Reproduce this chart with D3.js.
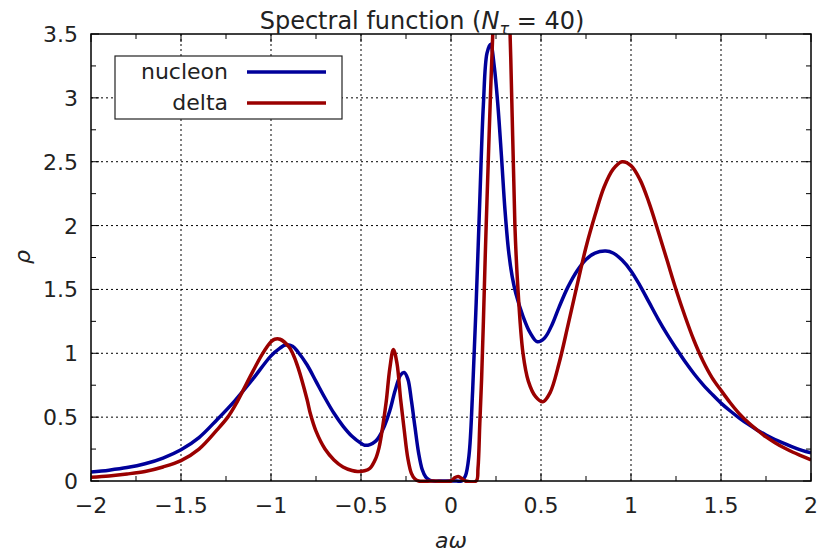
<!DOCTYPE html>
<html><head><meta charset="utf-8">
<script src="https://cdn.jsdelivr.net/npm/d3@7"></script>
<style>body{margin:0;background:#fff}svg{display:block}text{font-family:"DejaVu Sans",sans-serif;fill:#222}</style>
</head><body><svg id="c" width="820" height="555"></svg>
<script>
const xTicks = [-2,-1.5,-1,-0.5,0,0.5,1,1.5,2];
const xTickLabels = ["\u22122","\u22121.5","\u22121","\u22120.5","0","0.5","1","1.5","2"];
const yTicks = [0,0.5,1,1.5,2,2.5,3,3.5];
const yTickLabels = ["0","0.5","1","1.5","2","2.5","3","3.5"];
const xMinor = [-1.75,-1.25,-0.75,-0.25,0.25,0.75,1.25,1.75];
const yMinor = [0.25,0.75,1.25,1.75,2.25,2.75,3.25];

const nucleonX = [-2,-1.9,-1.8,-1.7,-1.6,-1.5,-1.4,-1.3,-1.2,-1.1,-1.0,-0.95,-0.92,-0.88,-0.85,-0.8,-0.75,-0.7,-0.65,-0.6,-0.55,-0.5,-0.48,-0.45,-0.42,-0.4,-0.37,-0.34,-0.31,-0.28,-0.26,-0.24,-0.22,-0.2,-0.18,-0.16,-0.14,-0.12,-0.1,-0.05,0,0.03,0.06,0.08,0.1,0.12,0.14,0.16,0.18,0.2,0.22,0.24,0.26,0.28,0.3,0.32,0.34,0.36,0.4,0.44,0.48,0.52,0.56,0.6,0.65,0.7,0.75,0.8,0.86,0.9,0.95,1.0,1.05,1.1,1.15,1.2,1.25,1.3,1.35,1.4,1.45,1.5,1.55,1.6,1.65,1.7,1.75,1.8,1.85,1.9,1.95,2.0];
const nucleonY = [0.07,0.085,0.105,0.135,0.18,0.245,0.34,0.48,0.63,0.8,0.98,1.04,1.065,1.055,1.01,0.91,0.78,0.65,0.53,0.43,0.35,0.295,0.28,0.285,0.31,0.345,0.43,0.55,0.71,0.83,0.85,0.8,0.63,0.42,0.22,0.09,0.03,0.008,0.0,0.0,0.0,0.0,0.0,0.04,0.2,0.7,1.4,2.2,2.95,3.35,3.42,3.25,2.95,2.55,2.12,1.8,1.6,1.47,1.29,1.16,1.09,1.12,1.22,1.36,1.52,1.645,1.735,1.785,1.8,1.785,1.73,1.645,1.53,1.4,1.27,1.15,1.04,0.935,0.84,0.755,0.68,0.61,0.55,0.495,0.445,0.4,0.36,0.325,0.295,0.265,0.24,0.22];

const deltaX = [-2,-1.9,-1.8,-1.7,-1.6,-1.5,-1.4,-1.3,-1.24,-1.2,-1.1,-1.05,-1.0,-0.98,-0.95,-0.9,-0.88,-0.85,-0.8,-0.78,-0.75,-0.7,-0.65,-0.6,-0.55,-0.52,-0.48,-0.45,-0.42,-0.4,-0.38,-0.36,-0.34,-0.32,-0.3,-0.28,-0.26,-0.24,-0.22,-0.2,-0.18,-0.1,0,0.02,0.04,0.06,0.08,0.14,0.15,0.16,0.17,0.18,0.19,0.2,0.22,0.24,0.26,0.28,0.3,0.32,0.34,0.355,0.37,0.4,0.43,0.47,0.51,0.55,0.6,0.65,0.7,0.75,0.8,0.85,0.9,0.95,1.0,1.05,1.1,1.15,1.2,1.25,1.3,1.35,1.4,1.45,1.5,1.55,1.6,1.65,1.7,1.75,1.8,1.85,1.9,1.95,2.0];
const deltaY = [0.03,0.04,0.055,0.075,0.11,0.16,0.25,0.4,0.5,0.59,0.86,0.99,1.09,1.11,1.11,1.05,1.0,0.89,0.64,0.52,0.39,0.25,0.165,0.11,0.082,0.075,0.08,0.1,0.17,0.26,0.42,0.62,0.88,1.03,0.92,0.64,0.4,0.18,0.06,0.015,0.0,0.0,0.0,0.025,0.035,0.02,0.0,0.0,0.1,0.45,0.8,1.25,1.75,2.2,3.05,3.8,4.4,4.7,4.5,3.9,2.85,2.0,1.55,1.0,0.78,0.66,0.62,0.69,0.92,1.22,1.53,1.83,2.08,2.3,2.44,2.5,2.47,2.36,2.18,1.96,1.73,1.5,1.29,1.1,0.94,0.81,0.71,0.615,0.53,0.46,0.4,0.345,0.3,0.26,0.225,0.195,0.165];

const seriesNames = ["nucleon","delta"];
const seriesColors = ["#00009a","#9a0000"];

const svg = d3.select("#c");
const L=91, R=811, T=34, B=481;
const x = d3.scaleLinear().domain([-2,2]).range([L,R]);
const y = d3.scaleLinear().domain([0,3.5]).range([B,T]);

const g = svg.append("g");
g.selectAll(".gx").data(xTicks.slice(1,-1)).join("line")
 .attr("x1",d=>x(d)).attr("x2",d=>x(d)).attr("y1",T).attr("y2",B)
 .attr("stroke","#000").attr("stroke-width",1).attr("stroke-dasharray","2,3");
g.selectAll(".gy").data(yTicks.slice(1,-1)).join("line")
 .attr("y1",d=>y(d)).attr("y2",d=>y(d)).attr("x1",L).attr("x2",R)
 .attr("stroke","#000").attr("stroke-width",1).attr("stroke-dasharray","2,3");

function ticks(vals,len){
  vals.forEach(v=>{
    g.append("line").attr("x1",x(v)).attr("x2",x(v)).attr("y1",B).attr("y2",B-len).attr("stroke","#000");
    g.append("line").attr("x1",x(v)).attr("x2",x(v)).attr("y1",T).attr("y2",T+len).attr("stroke","#000");
  });
}
function yticks(vals,len){
  vals.forEach(v=>{
    g.append("line").attr("y1",y(v)).attr("y2",y(v)).attr("x1",L).attr("x2",L+len).attr("stroke","#000");
    g.append("line").attr("y1",y(v)).attr("y2",y(v)).attr("x1",R).attr("x2",R-len).attr("stroke","#000");
  });
}
ticks(xTicks,8); ticks(xMinor,5); yticks(yTicks,8); yticks(yMinor,5);

svg.append("g").selectAll("text").data(xTicks).join("text")
 .attr("x",d=>x(d)).attr("y",513).attr("text-anchor","middle").style("font-size","22px")
 .text((d,i)=>xTickLabels[i]);
svg.append("g").selectAll("text").data(yTicks).join("text")
 .attr("x",78).attr("y",d=>y(d)+8).attr("text-anchor","end").style("font-size","22px")
 .text((d,i)=>yTickLabels[i]);

svg.append("clipPath").attr("id","clip").append("rect").attr("x",L).attr("y",T).attr("width",R-L).attr("height",B-T+2);
const line = d3.line().x(d=>x(d[0])).y(d=>y(Math.max(0,d[1]))).curve(d3.curveCatmullRom.alpha(0.5));
const nData = nucleonX.map((v,i)=>[v,nucleonY[i]]);
const dData = deltaX.map((v,i)=>[v,deltaY[i]]);
const lg = svg.append("g").attr("clip-path","url(#clip)");
lg.append("path").datum(nData).attr("d",line).attr("fill","none").attr("stroke",seriesColors[0]).attr("stroke-width",3.5).attr("stroke-linejoin","round");
lg.append("path").datum(dData).attr("d",line).attr("fill","none").attr("stroke",seriesColors[1]).attr("stroke-width",3.5).attr("stroke-linejoin","round");

svg.append("rect").attr("x",L).attr("y",T).attr("width",R-L).attr("height",B-T)
 .attr("fill","none").attr("stroke","#000").attr("stroke-width",1.5);

svg.append("rect").attr("x",115).attr("y",56).attr("width",227).attr("height",63)
 .attr("fill","#fff").attr("stroke","#222").attr("stroke-width",1.2);
seriesNames.forEach((n,i)=>{
  const yy = 72 + i*31;
  svg.append("text").attr("x",228).attr("y",yy+7).attr("text-anchor","end").style("font-size","22px").text(n);
  svg.append("line").attr("x1",247).attr("x2",326).attr("y1",yy).attr("y2",yy).attr("stroke",seriesColors[i]).attr("stroke-width",3.5);
});

const t = svg.append("text").attr("x",422).attr("y",29).attr("text-anchor","middle").style("font-size","24px");
t.append("tspan").text("Spectral function (");
t.append("tspan").style("font-style","italic").text("N");
t.append("tspan").style("font-style","italic").style("font-size","16px").attr("dy",5).text("\u03c4");
t.append("tspan").attr("dy",-5).text(" = 40)");

svg.append("text").attr("x",451).attr("y",548).attr("text-anchor","middle").style("font-size","22px").style("font-style","italic").text("a\u03c9");
svg.append("text").attr("transform","translate(30,257) rotate(-90)").attr("text-anchor","middle").style("font-size","22px").style("font-style","italic").text("\u03c1");
</script></body></html>
